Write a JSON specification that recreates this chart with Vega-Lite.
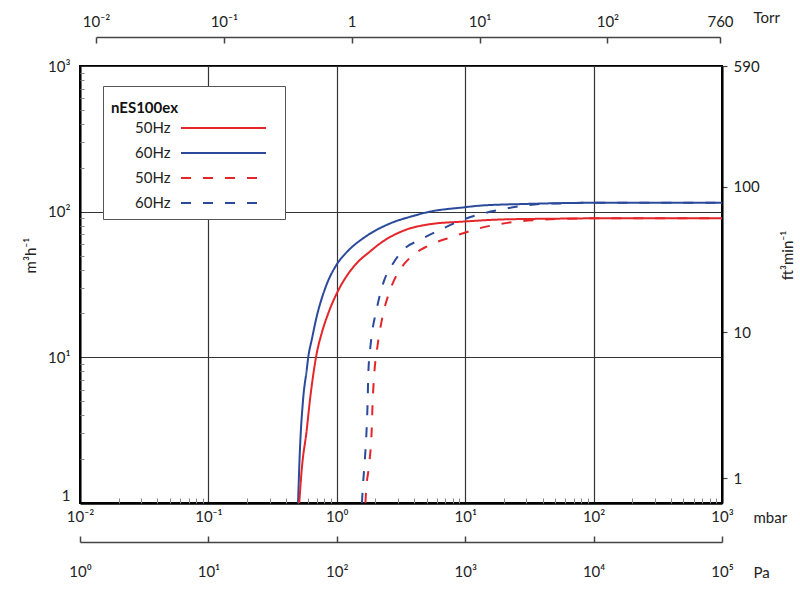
{
  "$schema": "https://vega.github.io/schema/vega-lite/v6.json",
  "width": 642,
  "height": 437,
  "autosize": "none",
  "padding": {"left": 80, "top": 66, "right": 78, "bottom": 105},
  "background": "white",
  "config": {
    "view": {"stroke": "black", "strokeWidth": 2},
    "axis": {
      "labelFont": "Lato", "labelFontSize": 15, "labelColor": "#222",
      "titleFont": "Lato", "titleFontSize": 15, "titleFontWeight": "normal", "titleColor": "#222",
      "labelFlush": false, "labelOverlap": false
    }
  },
  "layer": [
    {
      "data": {
        "values": [
          {"s": "60Hz a", "p": 0.499, "q": 1},
          {"s": "60Hz a", "p": 0.516, "q": 2.3},
          {"s": "60Hz a", "p": 0.546, "q": 5.1},
          {"s": "60Hz a", "p": 0.583, "q": 8.2},
          {"s": "60Hz a", "p": 0.6, "q": 10.1},
          {"s": "60Hz a", "p": 0.638, "q": 13.2},
          {"s": "60Hz a", "p": 0.697, "q": 19},
          {"s": "60Hz a", "p": 0.809, "q": 29.5},
          {"s": "60Hz a", "p": 1.0, "q": 43.5},
          {"s": "60Hz a", "p": 1.19, "q": 52.5},
          {"s": "60Hz a", "p": 1.7, "q": 68},
          {"s": "60Hz a", "p": 2.6, "q": 83},
          {"s": "60Hz a", "p": 3.94, "q": 93.5},
          {"s": "60Hz a", "p": 5.3, "q": 100},
          {"s": "60Hz a", "p": 9.7, "q": 107},
          {"s": "60Hz a", "p": 13, "q": 110},
          {"s": "60Hz a", "p": 30, "q": 113},
          {"s": "60Hz a", "p": 100, "q": 115},
          {"s": "60Hz a", "p": 1000, "q": 115},
          {"s": "50Hz a", "p": 0.51, "q": 1},
          {"s": "50Hz a", "p": 0.533, "q": 1.69},
          {"s": "50Hz a", "p": 0.583, "q": 3.17},
          {"s": "50Hz a", "p": 0.618, "q": 5.1},
          {"s": "50Hz a", "p": 0.664, "q": 8.2},
          {"s": "50Hz a", "p": 0.697, "q": 10.6},
          {"s": "50Hz a", "p": 0.762, "q": 14.6},
          {"s": "50Hz a", "p": 0.859, "q": 20.1},
          {"s": "50Hz a", "p": 1.0, "q": 27.5},
          {"s": "50Hz a", "p": 1.19, "q": 36},
          {"s": "50Hz a", "p": 1.43, "q": 44.3},
          {"s": "50Hz a", "p": 1.81, "q": 53.2},
          {"s": "50Hz a", "p": 2.2, "q": 61},
          {"s": "50Hz a", "p": 3.3, "q": 74},
          {"s": "50Hz a", "p": 5.3, "q": 82},
          {"s": "50Hz a", "p": 9.7, "q": 85.5},
          {"s": "50Hz a", "p": 20, "q": 88.5},
          {"s": "50Hz a", "p": 50, "q": 89.5},
          {"s": "50Hz a", "p": 100, "q": 90},
          {"s": "50Hz a", "p": 1000, "q": 90},
          {"s": "60Hz b", "p": 1.57, "q": 1},
          {"s": "60Hz b", "p": 1.59, "q": 1.23},
          {"s": "60Hz b", "p": 1.66, "q": 2.08},
          {"s": "60Hz b", "p": 1.71, "q": 3.34},
          {"s": "60Hz b", "p": 1.74, "q": 5.1},
          {"s": "60Hz b", "p": 1.76, "q": 7.8},
          {"s": "60Hz b", "p": 1.84, "q": 12.5},
          {"s": "60Hz b", "p": 2.04, "q": 21.2},
          {"s": "60Hz b", "p": 2.3, "q": 32.3},
          {"s": "60Hz b", "p": 2.75, "q": 44.3},
          {"s": "60Hz b", "p": 3.4, "q": 56.1},
          {"s": "60Hz b", "p": 4.44, "q": 64},
          {"s": "60Hz b", "p": 6.37, "q": 75},
          {"s": "60Hz b", "p": 10.3, "q": 90.2},
          {"s": "60Hz b", "p": 12.5, "q": 95},
          {"s": "60Hz b", "p": 18.6, "q": 103},
          {"s": "60Hz b", "p": 31, "q": 111},
          {"s": "60Hz b", "p": 51.5, "q": 114},
          {"s": "60Hz b", "p": 100, "q": 115},
          {"s": "60Hz b", "p": 1000, "q": 115},
          {"s": "50Hz b", "p": 1.67, "q": 1},
          {"s": "50Hz b", "p": 1.69, "q": 1.2},
          {"s": "50Hz b", "p": 1.79, "q": 1.87},
          {"s": "50Hz b", "p": 1.87, "q": 3.17},
          {"s": "50Hz b", "p": 1.9, "q": 4.84},
          {"s": "50Hz b", "p": 1.96, "q": 7.8},
          {"s": "50Hz b", "p": 2.07, "q": 11.8},
          {"s": "50Hz b", "p": 2.23, "q": 17.6},
          {"s": "50Hz b", "p": 2.6, "q": 29},
          {"s": "50Hz b", "p": 3.1, "q": 39.8},
          {"s": "50Hz b", "p": 3.94, "q": 50.5},
          {"s": "50Hz b", "p": 5.0, "q": 57.6},
          {"s": "50Hz b", "p": 8.07, "q": 67.5},
          {"s": "50Hz b", "p": 13, "q": 77},
          {"s": "50Hz b", "p": 23, "q": 84.7},
          {"s": "50Hz b", "p": 38.3, "q": 87.9},
          {"s": "50Hz b", "p": 100, "q": 90},
          {"s": "50Hz b", "p": 1000, "q": 90}
        ]
      },
      "mark": {"type": "line", "strokeWidth": 2, "interpolate": "monotone", "clip": true},
      "encoding": {
        "x": {
          "field": "p", "type": "quantitative",
          "scale": {"type": "log", "domain": [0.01, 1000], "nice": false},
          "axis": {
            "orient": "bottom",
            "values": [0.01, 0.1, 1, 10, 100, 1000],
            "labelExpr": "datum.value == 0.01 ? '10⁻²' : datum.value == 0.1 ? '10⁻¹' : datum.value == 1 ? '10⁰' : datum.value == 10 ? '10¹' : datum.value == 100 ? '10²' : '10³'",
            "ticks": false,
            "labelPadding": 6,
            "domainColor": "black", "domainWidth": 2.5,
            "grid": true, "gridColor": "#333", "gridWidth": 1.2,
            "title": "mbar", "titleAngle": 0, "titleAlign": "left", "titleBaseline": "middle",
            "titleX": 673, "titleY": 14
          }
        },
        "y": {
          "field": "q", "type": "quantitative",
          "scale": {"type": "log", "domain": [1, 1000], "nice": false},
          "axis": {
            "orient": "left",
            "values": [1, 10, 100, 1000],
            "labelExpr": "datum.value == 1 ? '1' : datum.value == 10 ? '10¹' : datum.value == 100 ? '10²' : '10³'",
            "labelBaseline": {"condition": {"test": "datum.value == 1", "value": "bottom"}, "value": "middle"},
            "ticks": false,
            "labelPadding": 10,
            "domainColor": "black", "domainWidth": 2,
            "grid": true, "gridColor": "#333", "gridWidth": 1.2,
            "title": "m³h⁻¹", "titleAngle": 270, "titleAlign": "center", "titleBaseline": "middle",
            "titleX": -50, "titleY": 189
          }
        },
        "color": {
          "field": "s", "type": "nominal",
          "scale": {"domain": ["50Hz a", "60Hz a", "50Hz b", "60Hz b"], "range": ["#e4262b", "#2b4a9b", "#e4262b", "#2b4a9b"]},
          "legend": {
            "title": "nES100ex", "orient": "none", "legendX": 23, "legendY": 20,
            "labelExpr": "slice(datum.label, 0, 4)",
            "titleFont": "Lato", "titleFontSize": 15, "titleFontWeight": "bold", "titleColor": "#111",
            "titleBaseline": "line-top", "titleLineHeight": 29, "titlePadding": 8,
            "labelFont": "Lato", "labelFontSize": 15, "labelColor": "#222", "labelOffset": 2,
            "symbolType": "M5.9,0L14.4,0M15.1,0", "symbolSize": 400, "symbolStrokeWidth": 2,
            "rowPadding": 6, "padding": 8,
            "strokeColor": "#555", "fillColor": "white"
          }
        },
        "strokeDash": {
          "field": "s", "type": "nominal",
          "scale": {"domain": ["50Hz a", "60Hz a", "50Hz b", "60Hz b"], "range": [[1, 0], [1, 0], [10, 12], [10, 12]]},
          "legend": {
            "title": "nES100ex", "orient": "none", "legendX": 23, "legendY": 20,
            "labelExpr": "slice(datum.label, 0, 4)",
            "symbolType": "M5.9,0L14.4,0M15.1,0", "symbolSize": 400
          }
        }
      }
    },
    {
      "data": {"values": [{"p": 0.01, "q": 1}, {"p": 1000, "q": 1000}]},
      "mark": {"type": "point", "opacity": 0},
      "encoding": {
        "x": {
          "field": "p", "type": "quantitative",
          "scale": {"type": "log", "domain": [0.01, 1000], "nice": false},
          "axis": {
            "orient": "bottom", "offset": -5,
            "values": [0.02,0.03,0.04,0.05,0.06,0.07,0.08,0.09,0.2,0.3,0.4,0.5,0.6,0.7,0.8,0.9,2,3,4,5,6,7,8,9,20,30,40,50,60,70,80,90,200,300,400,500,600,700,800,900],
            "labels": false, "domain": false, "grid": false,
            "tickSize": 5, "tickColor": "#888", "tickWidth": 1,
            "title": null
          }
        },
        "y": {
          "field": "q", "type": "quantitative",
          "scale": {"type": "log", "domain": [1, 1000], "nice": false},
          "axis": {
            "orient": "left", "offset": -4,
            "values": [2,3,4,5,6,7,8,9,20,30,40,50,60,70,80,90,200,300,400,500,600,700,800,900],
            "labels": false, "domain": false, "grid": false,
            "tickSize": 4, "tickColor": "#888", "tickWidth": 1,
            "title": null
          }
        }
      }
    },
    {
      "data": {"values": [{"torr": 0.01, "cfm": 1}, {"torr": 760, "cfm": 100}]},
      "mark": {"type": "point", "opacity": 0},
      "encoding": {
        "x": {
          "field": "torr", "type": "quantitative",
          "scale": {"type": "log", "domain": [0.01, 760], "range": [16, 640], "nice": false},
          "axis": {
            "orient": "top", "offset": 29,
            "values": [0.01, 0.1, 1, 10, 100, 760],
            "labelExpr": "datum.value == 0.01 ? '10⁻²' : datum.value == 0.1 ? '10⁻¹' : datum.value == 1 ? '1' : datum.value == 10 ? '10¹' : datum.value == 100 ? '10²' : '760'",
            "ticks": false,
            "labelPadding": 8,
            "domainColor": "#444", "domainWidth": 1.5,
            "grid": false,
            "title": "Torr", "titleAngle": 0, "titleAlign": "left", "titleBaseline": "middle",
            "titleX": 673, "titleY": -20
          }
        },
        "y": {
          "field": "cfm", "type": "quantitative",
          "scale": {"type": "log", "domain": [0.674, 674], "nice": false},
          "axis": {
            "orient": "right",
            "values": [1, 10, 100, 674],
            "labelExpr": "datum.value > 600 ? '590' : format(datum.value, 'd')",
            "tickSize": 5, "tickColor": "#444", "tickWidth": 1.2,
            "labelPadding": 6,
            "domainColor": "black", "domainWidth": 2,
            "grid": false,
            "title": "ft³min⁻¹", "titleAngle": 270, "titleAlign": "center", "titleBaseline": "middle",
            "titleX": 65, "titleY": 189
          }
        }
      }
    },
    {
      "data": {"values": [{"torr": 0.01}, {"torr": 760}]},
      "mark": {"type": "point", "opacity": 0},
      "encoding": {
        "x": {
          "field": "torr", "type": "quantitative",
          "scale": {"type": "log", "domain": [0.01, 760], "range": [16, 640], "nice": false},
          "axis": {
            "orient": "top", "offset": 23,
            "values": [0.01, 0.1, 1, 10, 100, 760],
            "labels": false, "domain": false, "grid": false,
            "tickSize": 6, "tickColor": "#444", "tickWidth": 1.5,
            "title": null
          }
        }
      }
    },
    {
      "data": {"values": [{"pa": 1}, {"pa": 100000}]},
      "mark": {"type": "point", "opacity": 0},
      "encoding": {
        "x": {
          "field": "pa", "type": "quantitative",
          "scale": {"type": "log", "domain": [1, 100000], "nice": false},
          "axis": {
            "orient": "bottom", "offset": 39,
            "values": [1, 10, 100, 1000, 10000, 100000],
            "labelExpr": "datum.value == 1 ? '10⁰' : datum.value == 10 ? '10¹' : datum.value == 100 ? '10²' : datum.value == 1000 ? '10³' : datum.value == 10000 ? '10⁴' : '10⁵'",
            "ticks": false,
            "labelPadding": 22,
            "domainColor": "#444", "domainWidth": 1.5,
            "grid": false,
            "title": "Pa", "titleAngle": 0, "titleAlign": "left", "titleBaseline": "middle",
            "titleX": 673, "titleY": 30
          }
        }
      }
    },
    {
      "data": {"values": [{"pa": 1}, {"pa": 100000}]},
      "mark": {"type": "point", "opacity": 0},
      "encoding": {
        "x": {
          "field": "pa", "type": "quantitative",
          "scale": {"type": "log", "domain": [1, 100000], "nice": false},
          "axis": {
            "orient": "bottom", "offset": 33,
            "values": [1, 10, 100, 1000, 10000, 100000],
            "labels": false, "domain": false, "grid": false,
            "tickSize": 6, "tickColor": "#444", "tickWidth": 1.5,
            "title": null
          }
        }
      }
    }
  ],
  "resolve": {"scale": {"x": "independent", "y": "independent"}}
}
